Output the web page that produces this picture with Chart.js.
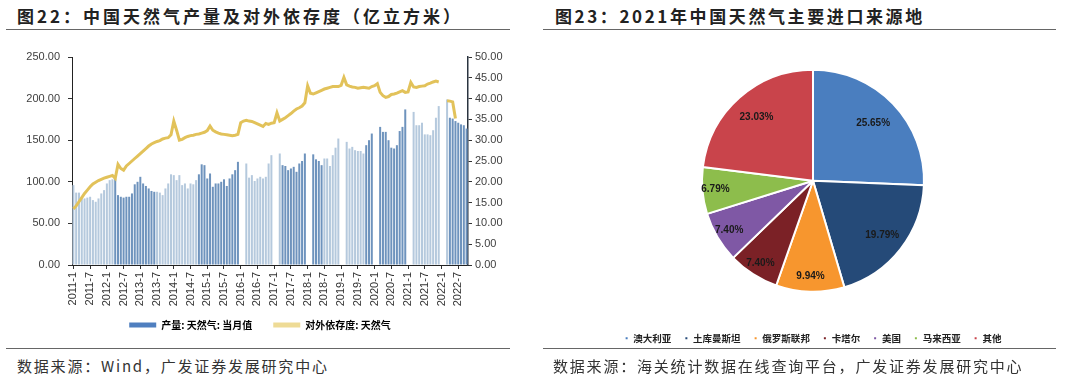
<!DOCTYPE html>
<html>
<head>
<meta charset="utf-8">
<script src="https://cdn.jsdelivr.net/npm/chart.js@4.4.0/dist/chart.umd.min.js"></script>
<style>
  body { margin: 0; width: 1080px; height: 386px; background: #fff; position: relative; overflow: hidden; font-family: "Noto Sans CJK SC", sans-serif; }
  .title { position: absolute; top: 3px; font-size: 17px; font-weight: bold; color: #222; white-space: nowrap; }
  .rule { position: absolute; height: 0; border-top: 1.5px solid #666; }
  .src { position: absolute; top: 355px; font-size: 15px; color: #333; letter-spacing: 1.8px; white-space: nowrap; }
  .wrap { position: absolute; }
</style>
</head>
<body>
<div class="title" style="left:17px; letter-spacing:3px;">图22：中国天然气产量及对外依存度（亿立方米）</div>
<div class="rule" style="left:6px; width:504px; top:29px;"></div>
<div class="wrap" style="left:0; top:40px; width:540px; height:300px;"><canvas id="c1" width="540" height="300"></canvas></div>
<div class="rule" style="left:6px; width:504px; top:348px;"></div>
<div class="src" style="left:17px;">数据来源：Wind，广发证券发展研究中心</div>

<div class="title" style="left:555px; letter-spacing:2.6px;">图23：2021年中国天然气主要进口来源地</div>
<div class="rule" style="left:543px; width:513px; top:29px;"></div>
<div class="wrap" style="left:543px; top:40px; width:540px; height:313px;"><canvas id="c2" width="540" height="313"></canvas></div>
<div class="rule" style="left:543px; width:513px; top:348px;"></div>
<div class="src" style="left:553px;">数据来源：海关统计数据在线查询平台，广发证券发展研究中心</div>

<script>
// monthly categories 2011-1 .. 2022-10
const months = [];
for (let y = 2011; y <= 2022; y++) {
    for (let m = 1; m <= 12; m++) {
        if (y === 2022 && m > 10) break;
        months.push(y + '-' + m);
    }
}

// 产量：天然气：当月值 (亿立方米)
const prod2011 = [96, 87, 87, 80, 80, 81, 82, 78, 76, 80, 86, 90];
const prod2012 = [98, 102, 103, 104, 84, 82, 81, 82, 82, 86, 97, 100];
const prod2013 = [106, 98, 95, 92, 89, 88, 88, 87, 84, 92, 98, 109];
const prod2014 = [108, 102, 108, 96, 98, 92, 98, 97, 102, 109, 121, 120];
const prod2015 = [104, 110, 94, 98, 98, 100, 103, 95, 104, 109, 114, 124];
const prod2016 = [null, null, 122, 105, 108, 101, 104, 106, 104, 106, 122, 132];
const prod2017 = [null, null, 134, 120, 119, 114, 116, 118, 112, 122, 125, 134];
const prod2018 = [null, null, 133, 127, 125, 120, 128, 128, 119, 132, 141, 152];
const prod2019 = [null, null, 148, 140, 142, 138, 137, 137, 134, 144, 150, 158];
const prod2020 = [null, null, 166, 160, 160, 150, 141, 140, 144, 161, 166, 187];
const prod2021 = [null, null, 184, 168, 168, 171, 157, 157, 156, 162, 177, 191];
const prod2022 = [null, null, 199, 177, 176, 173, 171, 169, 168, 164];

// 对外依存度：天然气 (%)
const dep2011 = [13.5, 14.2, 15.2, 16.2, 17.2, 18.0, 18.8, 19.5, 19.9, 20.3, 20.6, 20.9];
const dep2012 = [21.1, 21.3, 21.5, 20.8, 24.2, 23.2, 22.8, 23.8, 24.4, 25.0, 25.6, 26.2];
const dep2013 = [26.8, 27.4, 28.0, 28.6, 29.1, 29.4, 29.7, 29.9, 30.3, 30.5, 30.6, 31.3];
const dep2014 = [34.6, 32.4, 30.0, 30.2, 30.6, 30.9, 31.1, 31.2, 31.4, 31.5, 31.7, 31.9];
const dep2015 = [32.3, 33.4, 32.4, 32.0, 31.7, 31.5, 31.4, 31.3, 31.2, 31.1, 31.2, 31.4];
const dep2016 = [34.2, 34.6, 34.8, 34.6, 34.5, 34.2, 33.9, 33.6, 33.3, 34.0, 33.8, 34.1];
const dep2017 = [34.2, 36.6, 34.6, 35.0, 35.4, 35.9, 36.4, 37.0, 37.5, 37.8, 38.2, 39.0];
const dep2018 = [43.1, 41.3, 41.1, 41.4, 41.7, 42.0, 42.3, 42.5, 42.7, 42.9, 42.9, 42.9];
const dep2019 = [43.2, 45.1, 43.3, 43.0, 42.8, 42.7, 42.5, 42.6, 42.7, 42.6, 42.5, 42.9];
const dep2020 = [43.1, 43.6, 41.5, 40.7, 40.3, 40.5, 41.0, 41.1, 41.3, 41.6, 41.9, 41.5];
const dep2021 = [41.6, 43.9, 42.8, 42.7, 42.9, 43.0, 43.1, 43.5, 43.7, 44.0, 44.2, 44.0];
const dep2022 = [null, null, 39.5, 39.4, 39.2, 35.2, null, null, null, null];

const yTicksLeft = [0, 50, 100, 150, 200, 250];
const yTicksRight = [0, 5, 10, 15, 20, 25, 30, 35, 40, 45, 50];

// 2021 import sources
const pieLabels = ['澳大利亚', '土库曼斯坦', '俄罗斯联邦', '卡塔尔', '美国', '马来西亚', '其他'];
const pieShares = [25.65, 19.79, 9.94, 7.40, 7.40, 6.79, 23.03];
const pieColors = ['#4a7ebf', '#254a78', '#f7962e', '#7b2126', '#7f58a5', '#8dbd4c', '#c9444b'];

const production = [].concat(prod2011, prod2012, prod2013, prod2014, prod2015, prod2016,
    prod2017, prod2018, prod2019, prod2020, prod2021, prod2022);
const dependence = [].concat(dep2011, dep2012, dep2013, dep2014, dep2015, dep2016,
    dep2017, dep2018, dep2019, dep2020, dep2021, dep2022);

Chart.defaults.font.family = '"Liberation Sans", "Noto Sans CJK SC", sans-serif';
Chart.defaults.color = '#333';

// shading mimics the banded look of the original bars
const barShade = i => Math.floor(i / 15) % 2 === 0 ? '#b5c9dd' : '#6e93bd';

new Chart(document.getElementById('c1'), {
    data: {
        labels: months,
        datasets: [{
            type: 'bar',
            label: '产量: 天然气: 当月值',
            data: production,
            yAxisID: 'y',
            backgroundColor: production.map((v, i) => barShade(i)),
            categoryPercentage: 1,
            barPercentage: 0.72,
            order: 2
        }, {
            type: 'line',
            label: '对外依存度: 天然气',
            data: dependence,
            yAxisID: 'y2',
            borderColor: '#e2c25a',
            borderWidth: 3,
            pointRadius: 0,
            tension: 0,
            spanGaps: false,
            order: 1
        }]
    },
    options: {
        responsive: false,
        animation: false,
        layout: { padding: { top: 17, left: 0, right: 0, bottom: 0 } },
        plugins: {
            tooltip: { enabled: false },
            legend: {
                position: 'bottom',
                labels: {
                    boxWidth: 27,
                    boxHeight: 5,
                    padding: 11,
                    color: '#222',
                    font: { size: 10, weight: 'bold', family: '"Noto Sans CJK SC", sans-serif' },
                    // trailing ideographic spaces widen the gap and pull the row left like the original
                    generateLabels: chart => [
                        { text: chart.data.datasets[0].label + '\u3000', fillStyle: '#4f7fbf', strokeStyle: '#4f7fbf', lineWidth: 0, datasetIndex: 0 },
                        { text: chart.data.datasets[1].label + '\u3000\u3000', fillStyle: '#eedb96', strokeStyle: '#eedb96', lineWidth: 0, datasetIndex: 1 }
                    ]
                }
            }
        },
        scales: {
            x: {
                grid: {
                    offset: false,
                    drawOnChartArea: false,
                    tickLength: 4,
                    color: ctx => ctx.index % 6 === 0 ? '#333' : 'rgba(0,0,0,0)'
                },
                border: { color: '#222', width: 1 },
                ticks: {
                    autoSkip: false,
                    maxRotation: 90,
                    minRotation: 90,
                    padding: 3,
                    color: '#333',
                    font: { size: 11 },
                    callback: (v, i) => i % 6 === 0 ? months[i] : ''
                },
                afterFit: s => { s.height = 44; }
            },
            y: {
                position: 'left',
                min: 0,
                max: 250,
                afterBuildTicks: s => { s.ticks = yTicksLeft.map(v => ({ value: v })); },
                grid: { drawOnChartArea: false, tickLength: 4, color: '#333' },
                border: { color: '#222', width: 1 },
                ticks: { padding: 8, color: '#404040', font: { size: 11 }, callback: v => v.toFixed(2) },
                afterFit: s => { s.width = 72; }
            },
            y2: {
                position: 'right',
                min: 0,
                max: 50,
                afterBuildTicks: s => { s.ticks = yTicksRight.map(v => ({ value: v })); },
                grid: { drawOnChartArea: false, tickLength: 4, color: '#333' },
                border: { color: '#2a3440', width: 1.5 },
                ticks: { padding: 3, color: '#404040', font: { size: 11 }, callback: v => v.toFixed(2) },
                afterFit: s => { s.width = 72; }
            }
        }
    }
});

// percentage labels inside slices
const pieLabelPlugin = {
    id: 'pieLabels',
    afterDatasetsDraw(chart) {
        const ctx = chart.ctx;
        const meta = chart.getDatasetMeta(0);
        ctx.save();
        ctx.font = 'bold 10px "Liberation Sans", Arial, sans-serif';
        ctx.fillStyle = '#1a1a1a';
        ctx.textAlign = 'center';
        ctx.textBaseline = 'middle';
        meta.data.forEach((arc, i) => {
            const p = arc.getProps(['x', 'y', 'startAngle', 'endAngle', 'outerRadius'], true);
            const mid = (p.startAngle + p.endAngle) / 2;
            const r = p.outerRadius * (0.93 - 0.7 * pieShares[i] / 100);
            ctx.fillText(pieShares[i].toFixed(2) + '%', p.x + Math.cos(mid) * r, p.y + Math.sin(mid) * r);
        });
        ctx.restore();
    }
};

new Chart(document.getElementById('c2'), {
    type: 'pie',
    data: {
        labels: pieLabels,
        datasets: [{
            data: pieShares,
            backgroundColor: pieColors,
            borderColor: '#fff',
            borderWidth: 2,
            radius: 111
        }]
    },
    options: {
        responsive: false,
        animation: false,
        layout: { padding: { top: 1, bottom: 0 } },
        plugins: {
            tooltip: { enabled: false },
            legend: {
                position: 'bottom',
                labels: {
                    boxWidth: 4,
                    boxHeight: 4,
                    padding: 13,
                    color: '#222',
                    font: { size: 9.5, weight: 'bold', family: '"Noto Sans CJK SC", sans-serif' }
                }
            }
        }
    },
    plugins: [pieLabelPlugin]
});
</script>
</body>
</html>
